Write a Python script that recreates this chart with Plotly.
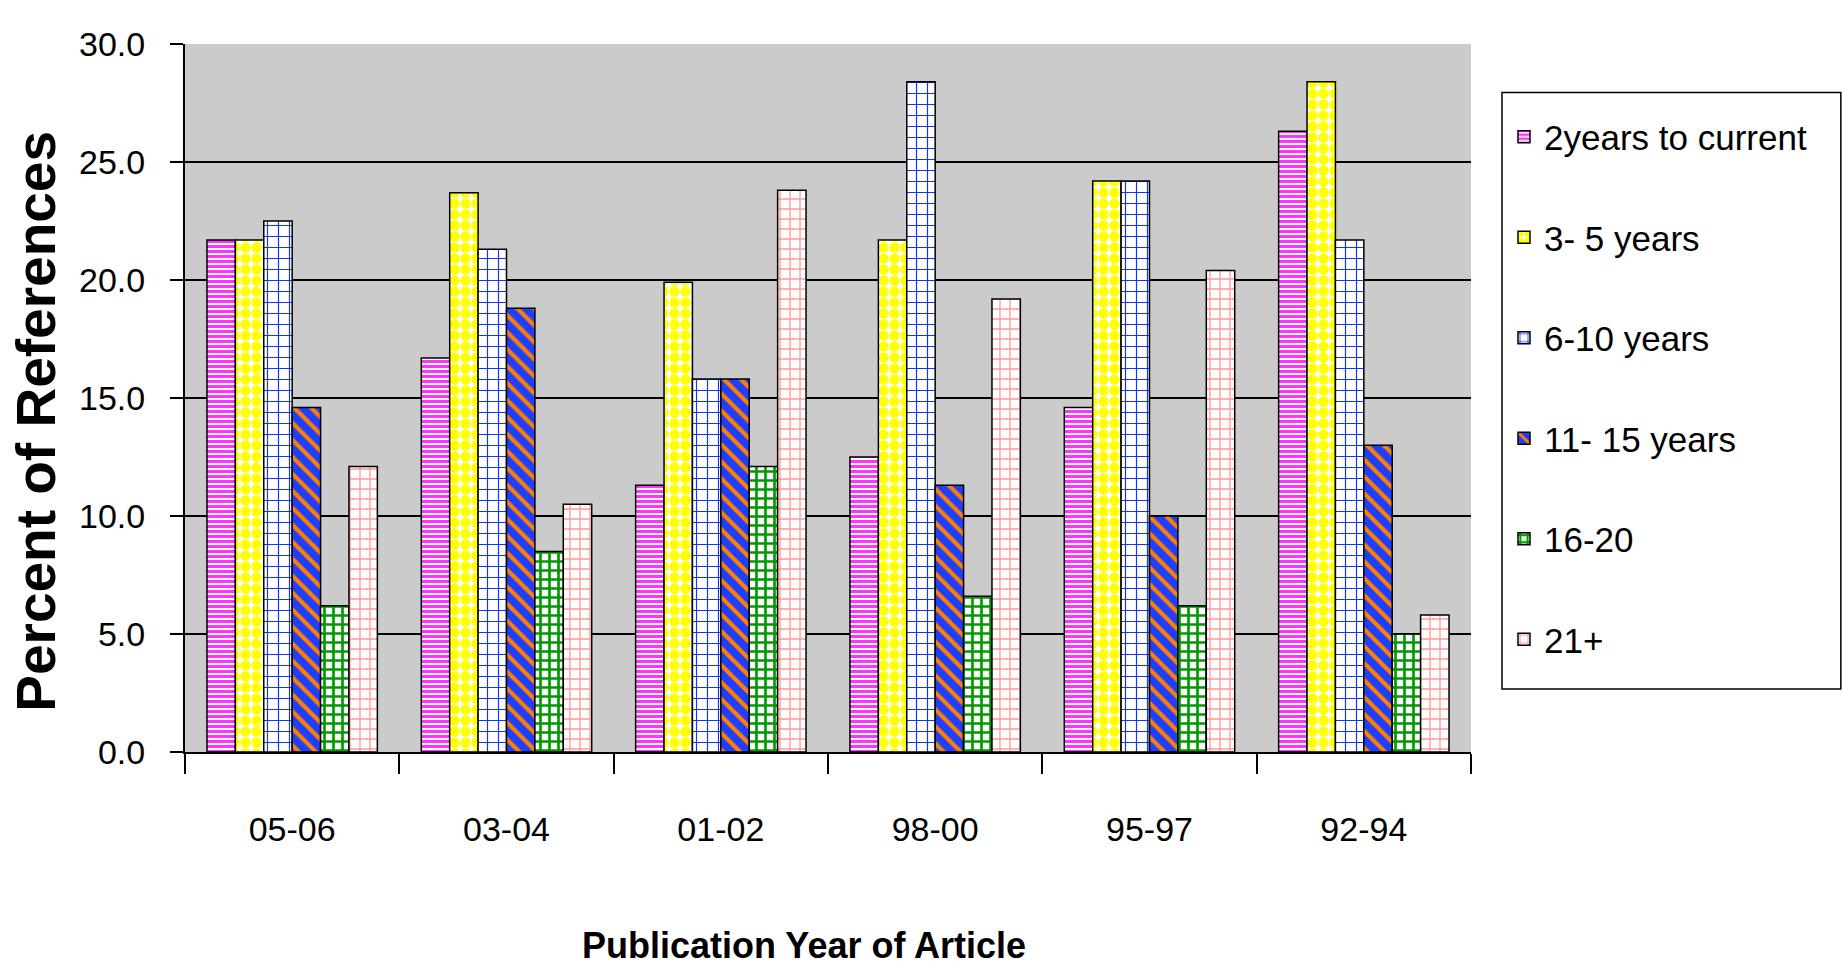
import plotly.graph_objects as go

categories = ["05-06", "03-04", "01-02", "98-00", "95-97", "92-94"]
series_names = ["2years to current", "3- 5 years", "6-10 years", "11- 15 years", "16-20", "21+"]

yrs_0_2 = [21.7, 16.7, 11.3, 12.5, 14.6, 26.3]
yrs_3_5 = [21.7, 23.7, 19.9, 21.7, 24.2, 28.4]
yrs_6_10 = [22.5, 21.3, 15.8, 28.4, 24.2, 21.7]
yrs_11_15 = [14.6, 18.8, 15.8, 11.3, 10.0, 13.0]
yrs_16_20 = [6.2, 8.5, 12.1, 6.6, 6.2, 5.0]
yrs_21_plus = [12.1, 10.5, 23.8, 19.2, 20.4, 5.8]

y_tick_vals = [0, 5, 10, 15, 20, 25, 30]
y_tick_text = ["0.0", "5.0", "10.0", "15.0", "20.0", "25.0", "30.0"]

series_values = [yrs_0_2, yrs_3_5, yrs_6_10, yrs_11_15, yrs_16_20, yrs_21_plus]

patterns = [
    dict(shape="-", fgcolor="#FF33FF", size=5, solidity=0.6),
    dict(shape=".", fgcolor="#FFFF00", size=11, solidity=0.7),
    dict(shape="+", fgcolor="#1133FF", size=11, solidity=0.2),
    dict(shape="\\", fgcolor="#FF7F00", size=12, solidity=0.35),
    dict(shape="+", fgcolor="#009900", size=9, solidity=0.5),
    dict(shape="+", fgcolor="#FF9999", size=10, solidity=0.25),
]
base_colors = ["#FFFFFF", "#FFFFFF", "#FFFFFF", "#1F3FFF", "#FFFFFF", "#FFFFFF"]

FONT = "Liberation Sans Narrow, Arial Narrow, Liberation Sans, Arial, sans-serif"

fig = go.Figure()
for i, (name, vals) in enumerate(zip(series_names, series_values)):
    pat = dict(patterns[i], fillmode="overlay", fgopacity=1)
    fig.add_trace(go.Bar(
        x=categories, y=vals, name=name,
        legendgroup=f"g{i}",
        marker=dict(color=base_colors[i], pattern=pat,
                    line=dict(color="#000000", width=1.5)),
    ))

W, H = 1843, 969
L, R, T, B = 184.5, 372, 43.5, 217
pw = W - L - R
ph = H - T - B

def px_to_paper_x(x):
    return (x - L) / pw

def px_to_paper_y(y):
    return (H - B - y) / ph

fig.update_layout(
    width=W, height=H,
    margin=dict(l=L, r=R, t=T, b=B, autoexpand=False),
    paper_bgcolor="#FFFFFF",
    plot_bgcolor="#CBCBCB",
    barmode="group",
    bargap=0.205,
    bargroupgap=0,
    font=dict(family=FONT, size=34, color="#000000"),
    showlegend=True,
    legend=dict(
        x=px_to_paper_x(1504), y=px_to_paper_y(107),
        xanchor="left", yanchor="top",
        bgcolor="rgba(0,0,0,0)", borderwidth=0,
        font=dict(family=FONT, size=35, color="#000000"),
        tracegroupgap=52,
        itemwidth=30,
    ),
    shapes=[
        dict(type="rect", xref="paper", yref="paper", layer="below",
             x0=px_to_paper_x(1502), x1=px_to_paper_x(1841),
             y0=px_to_paper_y(689), y1=px_to_paper_y(92),
             fillcolor="#FFFFFF", line=dict(color="#000000", width=1.5)),
    ],
    xaxis=dict(
        type="category",
        showline=True, linecolor="#000000", linewidth=2,
        ticks="outside", tickson="boundaries", ticklen=20, tickcolor="#000000", tickwidth=1.5,
        tickfont=dict(family=FONT, size=34),
        ticklabelstandoff=46,
        showgrid=False,
        automargin=False,
    ),
    yaxis=dict(
        range=[0, 30],
        tickvals=y_tick_vals, ticktext=y_tick_text,
        showline=True, linecolor="#000000", linewidth=2,
        ticks="outside", ticklen=13, tickcolor="#000000", tickwidth=1.5,
        tickfont=dict(family=FONT, size=34),
        ticklabelstandoff=18,
        showgrid=True, gridcolor="#000000", gridwidth=2,
        zeroline=False,
        automargin=False,
    ),
    annotations=[
        dict(text="<b>Percent of References</b>", textangle=-90,
             x=px_to_paper_x(36), y=px_to_paper_y(421), xref="paper", yref="paper",
             xanchor="center", yanchor="middle", showarrow=False,
             font=dict(family="Liberation Sans, Arial, sans-serif", size=55, color="#000000")),
        dict(text="<b>Publication Year of Article</b>",
             x=px_to_paper_x(804), y=px_to_paper_y(946), xref="paper", yref="paper",
             xanchor="center", yanchor="middle", showarrow=False,
             font=dict(family=FONT, size=36, color="#000000")),
    ],
)

fig.write_html("out.html", config={"displayModeBar": False},
               post_script="document.body.style.margin='0';")
